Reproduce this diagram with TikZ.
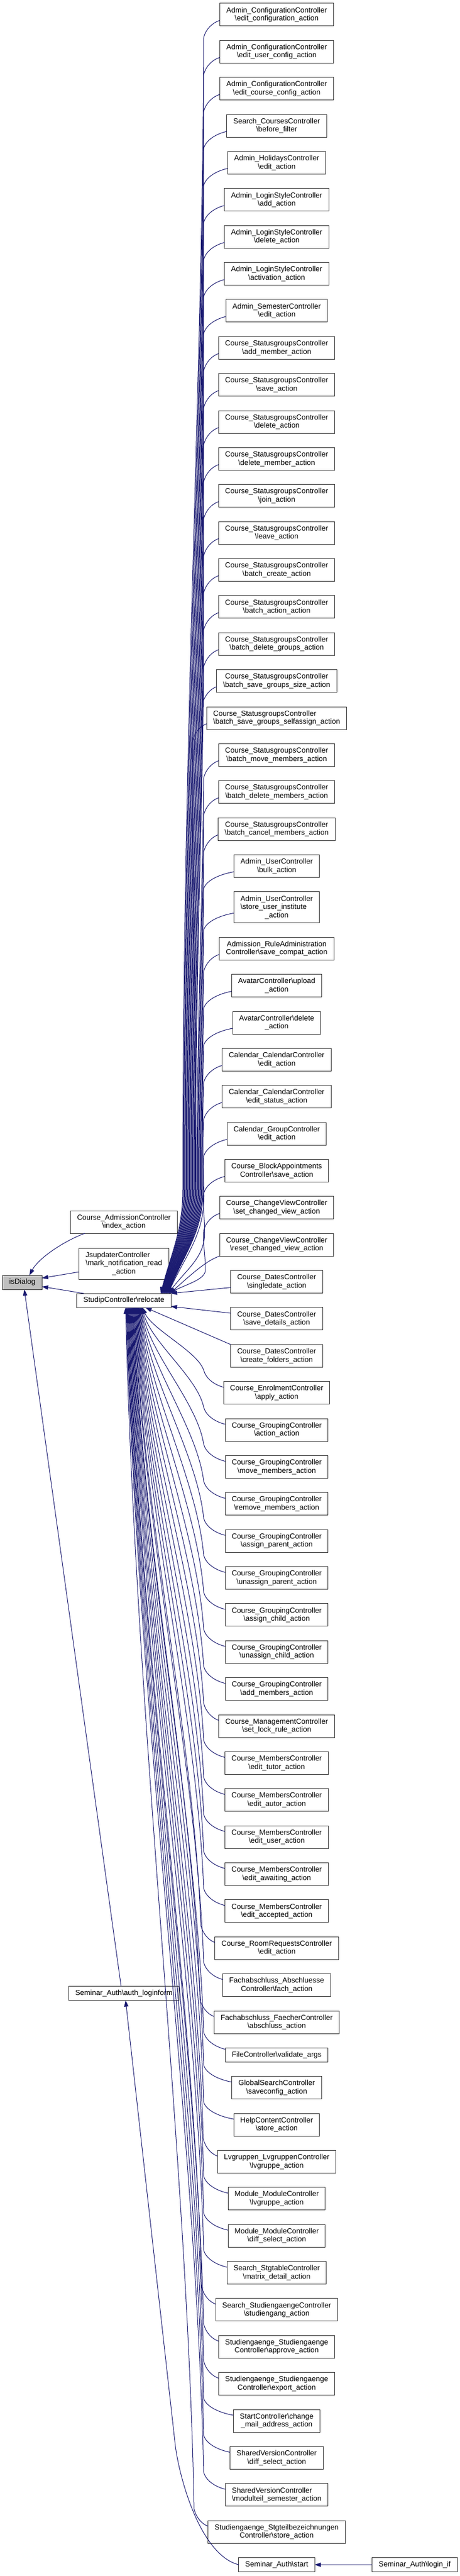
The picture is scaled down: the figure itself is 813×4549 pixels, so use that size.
\documentclass[tikz,border=0pt]{standalone}
\usepackage{fontspec}
\setmainfont{Liberation Sans}
\usepackage{calc}
\usetikzlibrary{arrows.meta,positioning,calc}
\newcommand\bs{\textbackslash}
\newcommand\lft[2]{\makebox[\widthof{#2}][l]{#1}}
\newcommand\gp{25.37pt}
\definecolor{mblue}{HTML}{191970}
\begin{document}
\begin{tikzpicture}[x=1pt,y=1pt,
  box/.style={draw=black!80, line width=1pt, fill=white, font=\fontsize{13}{14.5}\selectfont,
    align=center, inner xsep=11.5pt, inner ysep=1pt, outer sep=0pt},
  l1/.style={box, minimum height=25pt},
  l2/.style={box, minimum height=40pt},
  l3/.style={box, minimum height=55pt},
  edge/.style={draw=mblue, line width=1pt, -{Triangle[length=11pt,width=7.5pt]}}]
\fill[white] (0,0) rectangle (813,-4549);
\useasboundingbox (0,0) rectangle (813,-4549);
% left nodes
\node[l1, fill=black!25] (isd) at (39.5,-2264.5) {isDialog};
\node[l2] (adm) at (219,-2158) {Course\_AdmissionController\\\bs index\_action};
\node[l3] (jsu) at (219,-2231.5) {\lft{JsupdaterController}{\bs mark\_notification\_read}\\\bs mark\_notification\_read\\\_action};
\node[l1] (rel) at (219,-2296.5) {StudipController\bs relocate};
\node[l1] (auth) at (219,-3520) {Seminar\_Auth\bs auth\_loginform};
% right column
\node[l2] (r1) at (489,-26) {Admin\_ConfigurationController\\\bs edit\_configuration\_action};
\node[l2,below=\gp of r1] (r2) {Admin\_ConfigurationController\\\bs edit\_user\_config\_action};
\node[l2,below=\gp of r2] (r3) {Admin\_ConfigurationController\\\bs edit\_course\_config\_action};
\node[l2,below=\gp of r3] (r4) {Search\_CoursesController\\\bs before\_filter};
\node[l2,below=\gp of r4] (r5) {Admin\_HolidaysController\\\bs edit\_action};
\node[l2,below=\gp of r5] (r6) {Admin\_LoginStyleController\\\bs add\_action};
\node[l2,below=\gp of r6] (r7) {Admin\_LoginStyleController\\\bs delete\_action};
\node[l2,below=\gp of r7] (r8) {Admin\_LoginStyleController\\\bs activation\_action};
\node[l2,below=\gp of r8] (r9) {Admin\_SemesterController\\\bs edit\_action};
\node[l2,below=\gp of r9] (r10) {Course\_StatusgroupsController\\\bs add\_member\_action};
\node[l2,below=\gp of r10] (r11) {Course\_StatusgroupsController\\\bs save\_action};
\node[l2,below=\gp of r11] (r12) {Course\_StatusgroupsController\\\bs delete\_action};
\node[l2,below=\gp of r12] (r13) {Course\_StatusgroupsController\\\bs delete\_member\_action};
\node[l2,below=\gp of r13] (r14) {Course\_StatusgroupsController\\\bs join\_action};
\node[l2,below=\gp of r14] (r15) {Course\_StatusgroupsController\\\bs leave\_action};
\node[l2,below=\gp of r15] (r16) {Course\_StatusgroupsController\\\bs batch\_create\_action};
\node[l2,below=\gp of r16] (r17) {Course\_StatusgroupsController\\\bs batch\_action\_action};
\node[l2,below=\gp of r17] (r18) {Course\_StatusgroupsController\\\bs batch\_delete\_groups\_action};
\node[l2,below=\gp of r18] (r19) {Course\_StatusgroupsController\\\bs batch\_save\_groups\_size\_action};
\node[l2,below=\gp of r19] (r20) {\lft{Course\_StatusgroupsController}{\bs batch\_save\_groups\_selfassign\_action}\\\bs batch\_save\_groups\_selfassign\_action};
\node[l2,below=\gp of r20] (r21) {Course\_StatusgroupsController\\\bs batch\_move\_members\_action};
\node[l2,below=\gp of r21] (r22) {Course\_StatusgroupsController\\\bs batch\_delete\_members\_action};
\node[l2,below=\gp of r22] (r23) {Course\_StatusgroupsController\\\bs batch\_cancel\_members\_action};
\node[l2,below=\gp of r23] (r24) {Admin\_UserController\\\bs bulk\_action};
\node[l3,below=\gp of r24] (r25) {\lft{Admin\_UserController}{Admin\_UserController}\\\lft{\bs store\_user\_institute}{Admin\_UserController}\\\_action};
\node[l2,below=\gp of r25] (r26) {Admission\_RuleAdministration\\Controller\bs save\_compat\_action};
\node[l2,below=\gp of r26] (r27) {AvatarController\bs upload\\\_action};
\node[l2,below=\gp of r27] (r28) {AvatarController\bs delete\\\_action};
\node[l2,below=\gp of r28] (r29) {Calendar\_CalendarController\\\bs edit\_action};
\node[l2,below=\gp of r29] (r30) {Calendar\_CalendarController\\\bs edit\_status\_action};
\node[l2,below=\gp of r30] (r31) {Calendar\_GroupController\\\bs edit\_action};
\node[l2,below=\gp of r31] (r32) {Course\_BlockAppointments\\Controller\bs save\_action};
\node[l2,below=\gp of r32] (r33) {Course\_ChangeViewController\\\bs set\_changed\_view\_action};
\node[l2,below=\gp of r33] (r34) {Course\_ChangeViewController\\\bs reset\_changed\_view\_action};
\node[l2,below=\gp of r34] (r35) {Course\_DatesController\\\bs singledate\_action};
\node[l2,below=\gp of r35] (r36) {Course\_DatesController\\\bs save\_details\_action};
\node[l2,below=\gp of r36] (r37) {Course\_DatesController\\\bs create\_folders\_action};
\node[l2,below=\gp of r37] (r38) {Course\_EnrolmentController\\\bs apply\_action};
\node[l2,below=\gp of r38] (r39) {Course\_GroupingController\\\bs action\_action};
\node[l2,below=\gp of r39] (r40) {Course\_GroupingController\\\bs move\_members\_action};
\node[l2,below=\gp of r40] (r41) {Course\_GroupingController\\\bs remove\_members\_action};
\node[l2,below=\gp of r41] (r42) {Course\_GroupingController\\\bs assign\_parent\_action};
\node[l2,below=\gp of r42] (r43) {Course\_GroupingController\\\bs unassign\_parent\_action};
\node[l2,below=\gp of r43] (r44) {Course\_GroupingController\\\bs assign\_child\_action};
\node[l2,below=\gp of r44] (r45) {Course\_GroupingController\\\bs unassign\_child\_action};
\node[l2,below=\gp of r45] (r46) {Course\_GroupingController\\\bs add\_members\_action};
\node[l2,below=\gp of r46] (r47) {Course\_ManagementController\\\bs set\_lock\_rule\_action};
\node[l2,below=\gp of r47] (r48) {Course\_MembersController\\\bs edit\_tutor\_action};
\node[l2,below=\gp of r48] (r49) {Course\_MembersController\\\bs edit\_autor\_action};
\node[l2,below=\gp of r49] (r50) {Course\_MembersController\\\bs edit\_user\_action};
\node[l2,below=\gp of r50] (r51) {Course\_MembersController\\\bs edit\_awaiting\_action};
\node[l2,below=\gp of r51] (r52) {Course\_MembersController\\\bs edit\_accepted\_action};
\node[l2,below=\gp of r52] (r53) {Course\_RoomRequestsController\\\bs edit\_action};
\node[l2,below=\gp of r53] (r54) {Fachabschluss\_Abschluesse\\Controller\bs fach\_action};
\node[l2,below=\gp of r54] (r55) {Fachabschluss\_FaecherController\\\bs abschluss\_action};
\node[l1,below=\gp of r55] (r56) {FileController\bs validate\_args};
\node[l2,below=\gp of r56] (r57) {GlobalSearchController\\\bs saveconfig\_action};
\node[l2,below=\gp of r57] (r58) {HelpContentController\\\bs store\_action};
\node[l2,below=\gp of r58] (r59) {Lvgruppen\_LvgruppenController\\\bs lvgruppe\_action};
\node[l2,below=\gp of r59] (r60) {Module\_ModuleController\\\bs lvgruppe\_action};
\node[l2,below=\gp of r60] (r61) {Module\_ModuleController\\\bs diff\_select\_action};
\node[l2,below=\gp of r61] (r62) {Search\_StgtableController\\\bs matrix\_detail\_action};
\node[l2,below=\gp of r62] (r63) {Search\_StudiengaengeController\\\bs studiengang\_action};
\node[l2,below=\gp of r63] (r64) {Studiengaenge\_Studiengaenge\\Controller\bs approve\_action};
\node[l2,below=\gp of r64] (r65) {Studiengaenge\_Studiengaenge\\Controller\bs export\_action};
\node[l2,below=\gp of r65] (r66) {StartController\bs change\\\_mail\_address\_action};
\node[l2,below=\gp of r66] (r67) {SharedVersionController\\\bs diff\_select\_action};
\node[l2,below=\gp of r67] (r68) {\lft{SharedVersionController}{\bs modulteil\_semester\_action}\\\bs modulteil\_semester\_action};
\node[l2,below=\gp of r68] (r69) {Studiengaenge\_Stgteilbezeichnungen\\Controller\bs store\_action};
\node[l1,below=\gp of r69] (r70) {Seminar\_Auth\bs start};
\node[l1] (login) at (733,-4529.2) {Seminar\_Auth\bs login\_if};
% edges into relocate from above
\foreach \k in {1,...,33}{
  \pgfmathsetmacro\tx{284+14*(\k-1)/32}
  \pgfmathsetmacro\xb{323+40*(\k-1)/32}
  \draw[edge] let \p0=(r\k.west), \n1={min(\x0-25,360)}, \n2={max(2100,-\y0+110)} in
    ({\x0},{\y0-10}) .. controls ({\x0-0.45*(\x0-\n1)},{\y0-14}) and ({\n1+4},{\y0-25}) .. ({\n1},{\y0-40})
    .. controls ({\n1-2},{\y0-40-0.3*(\n2+\y0-40)}) and ({\xb},{-\n2+0.4*(\n2+\y0-40)}) .. ({\xb},{-\n2})
    .. controls ({\xb},{-\n2-0.4*(2284-\n2)}) and ({\tx+0.5*(\xb-\tx)},{-2284+0.4*(2284-\n2)}) .. (\tx,-2284);
}
\draw[edge] (r34.south west) .. controls +(-25,-8) and +(30,26) .. (300,-2284);
\draw[edge] ($(r35.west)+(0,-10)$) -- (rel.north east);
\draw[edge] ($(r36.west)+(0,10)$) -- ($(rel.south east)+(0,2)$);
\draw[edge] ($(r37.west)+(0,20)$) -- (257,-2309);
% edges into relocate from below
\foreach \k in {38,...,69}{
  \pgfmathsetmacro\tx{252-30*(\k-38)/31}
  \draw[edge] let \p0=(r\k.west), \n1={min(\x0-25,360)} in
    ({\x0},{\y0+10}) .. controls ({\x0-0.45*(\x0-\n1)},{\y0+14}) and ({\n1+4},{\y0+25}) .. ({\n1},{\y0+40})
    .. controls ({\n1-0.1*(\n1-\tx)},{\y0+40+0.3*(-2309-\y0-40)}) and ({\tx+0.15*(\n1-\tx)},{-2309-0.35*(-2309-\y0-40)}) .. (\tx,-2309);
}
% left edges
\draw[edge] ($(adm.south west)+(25,0)$) .. controls (112,-2192) and (68,-2222) .. (52,-2252);
\draw[edge] ($(jsu.west)+(0,-14.5)$) -- ($(isd.east)+(0,7.5)$);
\draw[edge] ($(rel.north west)+(12,0)$) -- ($(isd.east)+(0,-7.5)$);
\draw[edge] ($(auth.north)+(-5,0)$) -- ($(isd.south)+(3.5,0)$);
\draw[edge] (r70.west) .. controls (355,-4512) and (318,-4380) .. (310,-4320) -- ($(auth.south)+(3,0)$);
\draw[edge] (login) -- (r70);
\end{tikzpicture}
\end{document}
